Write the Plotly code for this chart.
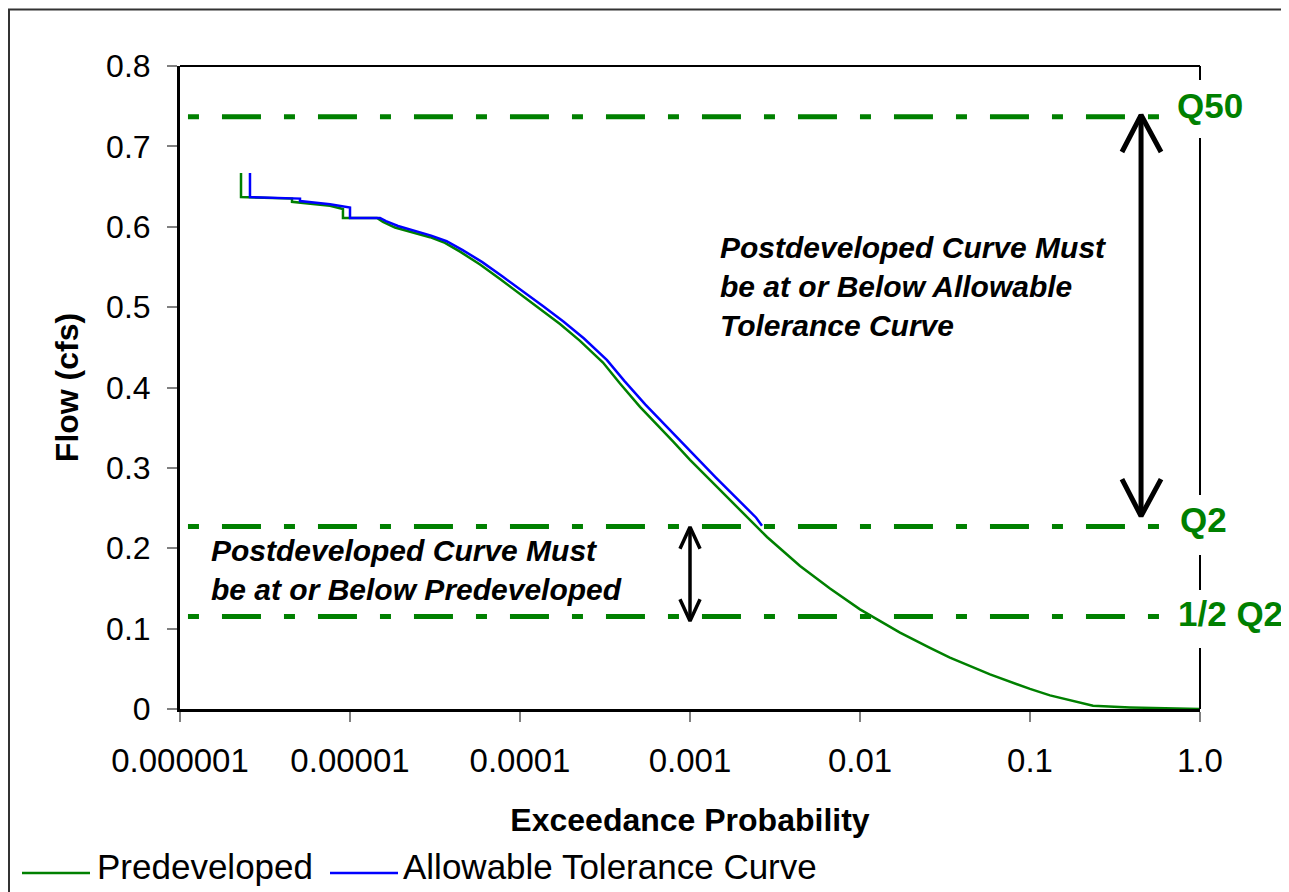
import plotly.graph_objects as go

# ---------------- data ----------------
pre_x = [2.285e-6, 2.285e-6, 4.56e-6, 4.56e-6, 7.63e-6, 9.09e-6, 9.09e-6, 1.442e-5, 1.564e-5,
         1.84e-5, 2.955e-5, 3.62e-5, 4.44e-5, 5.82e-5, 7.63e-5, 1.0e-4, 1.311e-4, 1.719e-4,
         2.254e-4, 3.077e-4, 3.874e-4, 5.08e-4, 7.94e-4, 1.0e-3, 1.311e-3, 2.254e-3, 2.838e-3,
         4.44e-3, 6.66e-3, 0.01, 0.01719, 0.0258, 0.0338, 0.0582, 0.1, 0.1311, 0.2348, 0.3874, 1.0]
pre_y = [0.667, 0.637, 0.635, 0.631, 0.626, 0.622, 0.611, 0.611, 0.606,
         0.599, 0.587, 0.580, 0.569, 0.553, 0.535, 0.516, 0.498, 0.479,
         0.458, 0.431, 0.405, 0.376, 0.333, 0.310, 0.285, 0.235, 0.214,
         0.178, 0.150, 0.124, 0.095, 0.076, 0.064, 0.043, 0.025, 0.017, 0.004, 0.002, 0.0]

tol_x = [2.58e-6, 2.58e-6, 5.08e-6, 5.08e-6, 7.63e-6, 1.0e-5, 1.0e-5, 1.502e-5, 1.628e-5,
         1.916e-5, 3.0e-5, 3.7e-5, 4.6e-5, 6.0e-5, 7.9e-5, 1.04e-4, 1.37e-4, 1.8e-4,
         2.38e-4, 3.25e-4, 4.12e-4, 5.45e-4, 8.55e-4, 1.08e-3, 1.42e-3, 2.45e-3, 2.652e-3]
tol_y = [0.667, 0.637, 0.635, 0.632, 0.628, 0.624, 0.611, 0.611, 0.607,
         0.601, 0.589, 0.582, 0.571, 0.556, 0.538, 0.520, 0.501, 0.482,
         0.461, 0.434, 0.408, 0.379, 0.336, 0.313, 0.288, 0.238, 0.228]

# reference flow levels
level_names = ["Q50", "Q2", "1/2 Q2"]
level_values = [0.737, 0.227, 0.115]
level_x = [1.114e-6, 0.667]

# double-headed arrows (shaft x, head arm x left/right, top/bottom tips, head depth)
arrow1_x = 0.45
arrow1_arms = [0.3475, 0.59]
arrow1_y = [0.739, 0.240]
arrow1_depth = 0.046
arrow2_x = 0.001
arrow2_arms = [8.73e-4, 1.146e-3]
arrow2_y = [0.2264, 0.1095]
arrow2_depth = 0.027

x_tickvals = [1e-6, 1e-5, 1e-4, 1e-3, 1e-2, 1e-1, 1.0]
x_ticktext = ["0.000001", "0.00001", "0.0001", "0.001", "0.01", "0.1", "1.0"]
y_tickvals = [0, 0.1, 0.2, 0.3, 0.4, 0.5, 0.6, 0.7, 0.8]
y_ticktext = ["0", "0.1", "0.2", "0.3", "0.4", "0.5", "0.6", "0.7", "0.8"]

GREEN = "#008000"
BLUE = "#0000FF"
FONT = "Liberation Sans, Arial, sans-serif"

fig = go.Figure()

# dash-dot reference lines
for v in level_values:
    fig.add_trace(go.Scatter(x=level_x, y=[v, v], mode="lines",
                             line=dict(color=GREEN, width=5, dash="11px,23px,39px,23px"),
                             showlegend=False, hoverinfo="skip"))

fig.add_trace(go.Scatter(x=pre_x, y=pre_y, mode="lines", name="Predeveloped",
                         line=dict(color=GREEN, width=2.5), showlegend=False))
fig.add_trace(go.Scatter(x=tol_x, y=tol_y, mode="lines", name="Allowable Tolerance Curve",
                         line=dict(color=BLUE, width=2.5), showlegend=False))


def arrow_trace(xc, arms, ys, depth, width):
    top, bot = ys
    xs = [xc, xc, None, arms[0], xc, arms[1], None, arms[0], xc, arms[1]]
    yv = [top, bot, None, top - depth, top, top - depth, None, bot + depth, bot, bot + depth]
    return go.Scatter(x=xs, y=yv, mode="lines", line=dict(color="black", width=width),
                      showlegend=False, hoverinfo="skip")


fig.add_trace(arrow_trace(arrow1_x, arrow1_arms, arrow1_y, arrow1_depth, 5))
fig.add_trace(arrow_trace(arrow2_x, arrow2_arms, arrow2_y, arrow2_depth, 3.5))

# plot area geometry (page pixels; the page body adds an 8px offset)
OFF = 8
L, R, T, B = 180, 1200, 66, 709
W, H = R - L, B - T


def px(xp):
    return (xp - L) / W


def py(yp):
    return (B - yp) / H


shapes = []
# outer chart border (cropped at right/bottom)
shapes.append(dict(type="rect", xref="paper", yref="paper", x0=px(9), x1=px(1300), y0=py(900), y1=py(9.5),
                   line=dict(color="#333333", width=2), fillcolor="rgba(0,0,0,0)", layer="below"))
# top frame line
shapes.append(dict(type="line", xref="paper", yref="paper", x0=0, x1=1, y0=1, y1=1,
                   line=dict(color="black", width=2)))
# right frame segments (gaps where labels sit)
for a, b in [(66, 80), (138, 495), (555, 590), (648, 709)]:
    shapes.append(dict(type="line", xref="paper", yref="paper", x0=1, x1=1, y0=py(a), y1=py(b),
                       line=dict(color="black", width=2)))
# legend samples
shapes.append(dict(type="line", xref="paper", yref="paper", x0=px(22), x1=px(90), y0=py(873), y1=py(873),
                   line=dict(color=GREEN, width=2.5)))
shapes.append(dict(type="line", xref="paper", yref="paper", x0=px(330), x1=px(398), y0=py(873), y1=py(873),
                   line=dict(color=BLUE, width=2.5)))

annotations = []
label_pos = [(1175, 106), (1178, 520), (1176, 613)]
for name, (lx, ly) in zip(level_names, label_pos):
    annotations.append(dict(xref="paper", yref="paper", x=px(lx), y=py(ly), xanchor="left", yanchor="middle",
                            text="<b>" + name + "</b>", showarrow=False,
                            font=dict(family=FONT, size=35, color=GREEN)))
annotations.append(dict(xref="paper", yref="paper", x=px(718), y=py(286), xanchor="left", yanchor="middle",
                        align="left", showarrow=False,
                        text="<b><i>Postdeveloped Curve Must<br>be at or Below Allowable<br>Tolerance Curve</i></b>",
                        font=dict(family=FONT, size=30, color="black")))
annotations.append(dict(xref="paper", yref="paper", x=px(209), y=py(570), xanchor="left", yanchor="middle",
                        align="left", showarrow=False,
                        text="<b><i>Postdeveloped Curve Must<br>be at or Below Predeveloped</i></b>",
                        font=dict(family=FONT, size=30, color="black")))
# legend texts
annotations.append(dict(xref="paper", yref="paper", x=px(95), y=py(866), xanchor="left", yanchor="middle",
                        text="Predeveloped", showarrow=False, font=dict(family=FONT, size=35, color="black")))
annotations.append(dict(xref="paper", yref="paper", x=px(401), y=py(866), xanchor="left", yanchor="middle",
                        text="Allowable Tolerance Curve", showarrow=False,
                        font=dict(family=FONT, size=35, color="black")))

fig.update_layout(
    width=1289 - OFF, height=892 - OFF,
    margin=dict(l=L - OFF, r=1289 - R, t=T - OFF, b=892 - B, pad=0),
    paper_bgcolor="white", plot_bgcolor="white",
    showlegend=False,
    shapes=shapes, annotations=annotations,
    font=dict(family=FONT, color="black"),
)
fig.update_xaxes(type="log", range=[-6, 0], tickvals=x_tickvals, ticktext=x_ticktext,
                 showline=True, linecolor="black", linewidth=3, showgrid=False, zeroline=False,
                 ticks="outside", ticklen=10, tickcolor="#808080", tickwidth=1.5,
                 tickfont=dict(family=FONT, size=33, color="black"), ticklabelstandoff=10,
                 title=dict(text="<b>Exceedance Probability</b>", font=dict(family=FONT, size=32, color="black"),
                            standoff=32))
fig.update_yaxes(range=[0, 0.8], tickvals=y_tickvals, ticktext=y_ticktext,
                 showline=True, linecolor="black", linewidth=3, showgrid=False, zeroline=False,
                 ticks="outside", ticklen=10, tickcolor="#808080", tickwidth=1.5,
                 tickfont=dict(family=FONT, size=32, color="black"), ticklabelstandoff=10,
                 title=dict(text="<b>Flow (cfs)</b>", font=dict(family=FONT, size=32, color="black"),
                            standoff=18))

fig.write_html("out.html")
